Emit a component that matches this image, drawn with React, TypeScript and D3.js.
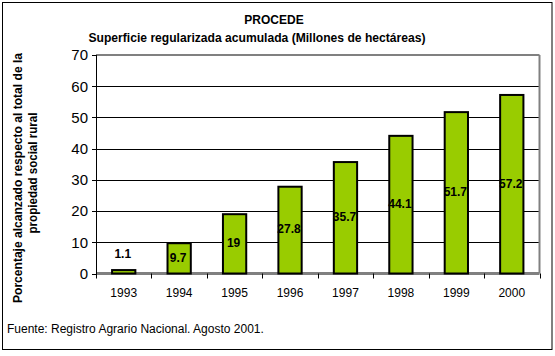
import React from "react";
import * as d3 from "d3";

const years = ["1993", "1994", "1995", "1996", "1997", "1998", "1999", "2000"];
const values = [1.1, 9.7, 19, 27.8, 35.7, 44.1, 51.7, 57.2];
const valueLabels = ["1.1", "9.7", "19", "27.8", "35.7", "44.1", "51.7", "57.2"];
const yTicks = [0, 10, 20, 30, 40, 50, 60, 70];

const title = "PROCEDE";
const subtitle = "Superficie regularizada acumulada (Millones de hectáreas)";
const yTitle1 = "Porcentaje alcanzado respecto al total de la";
const yTitle2 = "propiedad social rural";
const footer = "Fuente: Registro Agrario Nacional. Agosto 2001.";

export default function App() {
  const W = 555, H = 356;
  const left = 96, right = 539.5, top = 55, bottom = 273.5;
  const x = d3.scaleBand<string>().domain(years).range([left, right]).paddingInner(0.58).paddingOuter(0.29);
  const xb = d3.scaleBand<string>().domain(years).range([left, right]);
  const y = d3.scaleLinear().domain([0, 70]).range([bottom, top]);
  const font = "'Liberation Sans', Arial, sans-serif";

  return (
    <svg width={W} height={H} style={{ position: "absolute", left: 0, top: 0 }} fontFamily={font}>
      <rect x={0} y={0} width={W} height={H} fill="#fff" />
      <rect x={2.5} y={2.5} width={549.5} height={347} fill="none" stroke="#000" strokeWidth={1} />
      <text x={274} y={24} textAnchor="middle" fontSize={12} fontWeight="bold">{title}</text>
      <text x={257} y={42} textAnchor="middle" fontSize={12} fontWeight="bold" textLength={337} lengthAdjust="spacingAndGlyphs">{subtitle}</text>

      {/* gridlines */}
      {yTicks.filter(t => t > 0 && t < 70).map(t => (
        <line key={t} x1={left} x2={right} y1={Math.round(y(t)) + 0.5} y2={Math.round(y(t)) + 0.5} stroke="#000" strokeWidth={1} />
      ))}
      {/* plot border top/right */}
      <line x1={left} x2={right} y1={top} y2={top} stroke="#808080" strokeWidth={2} />
      <line x1={right} x2={right} y1={top} y2={bottom} stroke="#808080" strokeWidth={2} />
      {/* floor */}
      <line x1={left} x2={right} y1={bottom} y2={bottom} stroke="#808080" strokeWidth={3} />

      {/* bars */}
      {years.map((yr, i) => (
        <rect key={yr} x={x(yr)!} y={y(values[i])} width={x.bandwidth()} height={bottom - y(values[i])}
          fill="#99CC00" stroke="#000" strokeWidth={2} />
      ))}

      {/* y axis */}
      <line x1={left + 0.5} x2={left + 0.5} y1={top} y2={bottom + 5} stroke="#000" strokeWidth={1} />
      {yTicks.map(t => (
        <g key={t}>
          <line x1={left - 4} x2={left} y1={Math.round(y(t)) + 0.5} y2={Math.round(y(t)) + 0.5} stroke="#000" />
          <text x={88} y={y(t)} dy="0.36em" textAnchor="end" fontSize={15} fill="#000">{t}</text>
        </g>
      ))}
      {/* x axis ticks */}
      {years.map(yr => (
        <line key={yr} x1={Math.round(xb(yr)! + xb.bandwidth()) + 0.5} x2={Math.round(xb(yr)! + xb.bandwidth()) + 0.5}
          y1={bottom} y2={bottom + 5} stroke="#000" />
      ))}
      {years.map(yr => (
        <text key={yr} x={xb(yr)! + xb.bandwidth() / 2} y={297} textAnchor="middle" fontSize={12}>{yr}</text>
      ))}

      {/* value labels */}
      {years.map((yr, i) => {
        const cx = x(yr)! + x.bandwidth() / 2 - 1;
        const h = bottom - y(values[i]);
        const cy = h < 20 ? y(values[i]) - 16 : y(values[i] / 2) - 1;
        return (
          <text key={yr} x={cx} y={cy} dy="0.36em" textAnchor="middle" fontSize={12} fontWeight="bold">{valueLabels[i]}</text>
        );
      })}

      {/* y title */}
      <text transform="translate(22,178) rotate(-90)" textAnchor="middle" fontSize={12} fontWeight="bold"
        textLength={250} lengthAdjust="spacingAndGlyphs">{yTitle1}</text>
      <text transform="translate(37,173) rotate(-90)" textAnchor="middle" fontSize={12} fontWeight="bold"
        textLength={121} lengthAdjust="spacingAndGlyphs">{yTitle2}</text>

      <text x={7} y={333} fontSize={12}>{footer}</text>
    </svg>
  );
}
